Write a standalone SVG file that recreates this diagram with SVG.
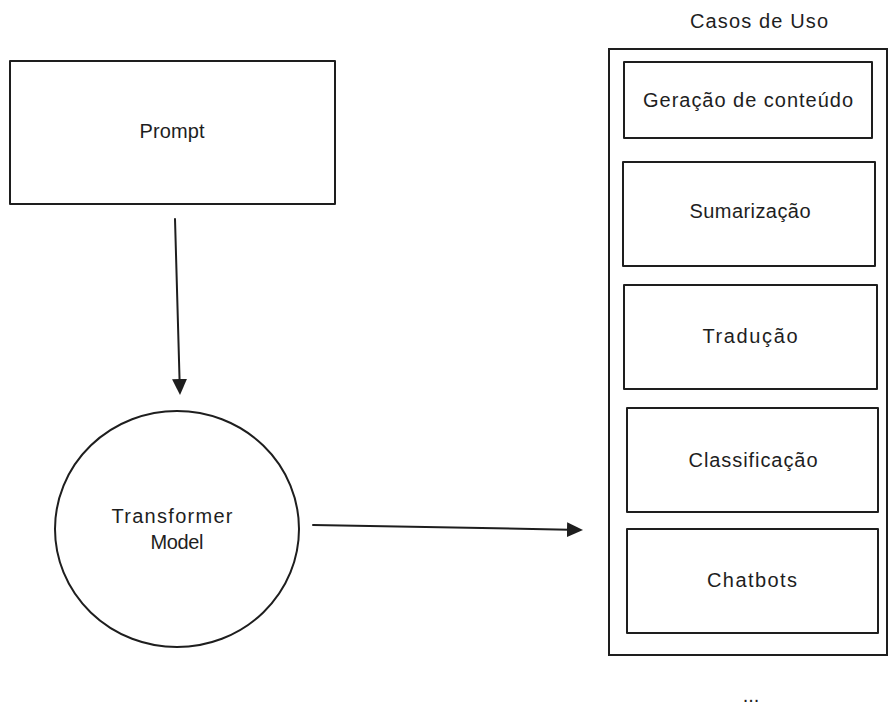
<svg xmlns="http://www.w3.org/2000/svg" width="896" height="718" viewBox="0 0 896 718">
  <style>
    .shape { fill: #ffffff; stroke: #1e1e1e; stroke-width: 2; stroke-linejoin: round; }
    .frame { fill: none; stroke: #1e1e1e; stroke-width: 2; }
    .label { font-family: "Liberation Sans", "DejaVu Sans", sans-serif; font-size: 20px; fill: #1e1e1e; text-anchor: middle; }
    .conn { fill: none; stroke: #1e1e1e; stroke-width: 2; stroke-linecap: round; }
  </style>
  <defs>
    <marker id="arrow" markerUnits="userSpaceOnUse" markerWidth="18" markerHeight="16" refX="2" refY="7.5" orient="auto">
      <path d="M0,0 L16,7.5 L0,15 Z" fill="#1e1e1e"/>
    </marker>
  </defs>
  <rect width="896" height="718" fill="#ffffff"/>

  <g id="prompt">
    <rect class="shape" x="10" y="61" width="325" height="143"/>
    <text class="label" x="172" y="138" textLength="65">Prompt</text>
  </g>

  <g id="transformer">
    <ellipse class="shape" cx="177" cy="529" rx="122" ry="118"/>
    <text class="label" x="172" y="523" textLength="121">Transformer</text>
    <text class="label" x="177" y="549" textLength="53">Model</text>
  </g>

  <g id="casos-de-uso">
    <text class="label" x="759" y="28" textLength="138">Casos de Uso</text>
    <rect class="frame" x="609" y="49" width="278" height="606"/>
  </g>

  <g id="geracao">
    <rect class="shape" x="624" y="62" width="248" height="76"/>
    <text class="label" x="748" y="107" textLength="210">Geração de conteúdo</text>
  </g>

  <g id="sumarizacao">
    <rect class="shape" x="623" y="162" width="252" height="104"/>
    <text class="label" x="750" y="218" textLength="121">Sumarização</text>
  </g>

  <g id="traducao">
    <rect class="shape" x="624" y="285" width="253" height="104"/>
    <text class="label" x="750" y="343" textLength="95">Tradução</text>
  </g>

  <g id="classificacao">
    <rect class="shape" x="627" y="408" width="251" height="104"/>
    <text class="label" x="753" y="467" textLength="129">Classificação</text>
  </g>

  <g id="chatbots">
    <rect class="shape" x="627" y="529" width="251" height="104"/>
    <text class="label" x="752" y="587" textLength="90">Chatbots</text>
  </g>

  <g id="ellipsis">
    <text class="label" x="751" y="702">...</text>
  </g>

  <g id="connectors">
    <line class="conn" x1="175" y1="219" x2="179.6" y2="381" marker-end="url(#arrow)"/>
    <line class="conn" x1="313" y1="525" x2="569" y2="529.7" marker-end="url(#arrow)"/>
  </g>
</svg>
